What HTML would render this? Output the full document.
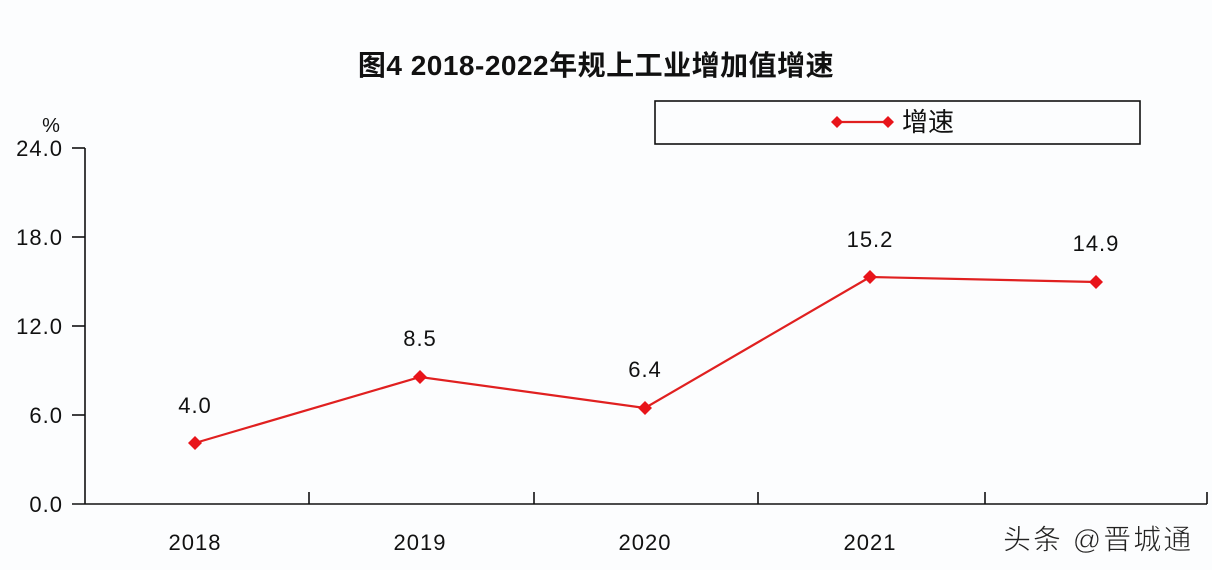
<!DOCTYPE html>
<html><head><meta charset="utf-8"><style>
html,body{margin:0;padding:0;background:#fcfdfe;}
svg{display:block;}
</style></head><body>
<svg width="1212" height="570" viewBox="0 0 1212 570" xmlns="http://www.w3.org/2000/svg">
<rect width="1212" height="570" fill="#fcfdfe"/>
<text x="596" y="75" text-anchor="middle" font-family="'Liberation Sans','Noto Sans CJK SC',sans-serif" font-weight="bold" font-size="28" letter-spacing="0.5" fill="#111">图4 2018-2022年规上工业增加值增速</text>
<rect x="655" y="101" width="485" height="43" fill="none" stroke="#111" stroke-width="1.6"/>
<line x1="837" y1="122" x2="888" y2="122" stroke="#e02020" stroke-width="2.2"/>
<path d="M837 116 L843 122 L837 128 L831 122 Z" fill="#e8141a"/>
<path d="M888 116 L894 122 L888 128 L882 122 Z" fill="#e8141a"/>
<text x="902" y="131" font-family="'Liberation Sans','Noto Sans CJK SC',sans-serif" font-size="26" fill="#111">增速</text>
<text x="51" y="132" text-anchor="middle" font-family="'Liberation Sans',sans-serif" font-size="20" fill="#111">%</text>
<g font-family="'Liberation Sans',sans-serif" font-size="22" fill="#111" text-anchor="end" letter-spacing="1">
<text x="63" y="156">24.0</text>
<text x="63" y="245">18.0</text>
<text x="63" y="334">12.0</text>
<text x="63" y="423">6.0</text>
<text x="63" y="512">0.0</text>
</g>
<g stroke="#111" stroke-width="1.6" fill="none">
<line x1="85" y1="148" x2="85" y2="504"/>
<line x1="72" y1="148" x2="85" y2="148"/>
<line x1="72" y1="237" x2="85" y2="237"/>
<line x1="72" y1="326" x2="85" y2="326"/>
<line x1="72" y1="415" x2="85" y2="415"/>
<line x1="72" y1="504" x2="1207" y2="504"/>
<line x1="309" y1="492" x2="309" y2="504"/>
<line x1="534" y1="492" x2="534" y2="504"/>
<line x1="758" y1="492" x2="758" y2="504"/>
<line x1="985" y1="492" x2="985" y2="504"/>
<line x1="1207" y1="492" x2="1207" y2="504"/>
</g>
<g font-family="'Liberation Sans',sans-serif" font-size="22" fill="#111" text-anchor="middle" letter-spacing="1">
<text x="195" y="550">2018</text>
<text x="420" y="550">2019</text>
<text x="645" y="550">2020</text>
<text x="870" y="550">2021</text>
</g>
<polyline points="195,443 420,377 645,408 870,277 1096,282" fill="none" stroke="#e02020" stroke-width="2.2"/>
<g fill="#e8141a">
<path d="M195 436 L202 443 L195 450 L188 443 Z"/>
<path d="M420 370 L427 377 L420 384 L413 377 Z"/>
<path d="M645 401 L652 408 L645 415 L638 408 Z"/>
<path d="M870 270 L877 277 L870 284 L863 277 Z"/>
<path d="M1096 275 L1103 282 L1096 289 L1089 282 Z"/>
</g>
<g font-family="'Liberation Sans',sans-serif" font-size="22" fill="#111" text-anchor="middle" letter-spacing="1">
<text x="195" y="413">4.0</text>
<text x="420" y="346">8.5</text>
<text x="645" y="377">6.4</text>
<text x="870" y="247">15.2</text>
<text x="1096" y="251">14.9</text>
</g>
<text x="1003" y="549" font-family="'Liberation Sans','Noto Sans CJK SC',sans-serif" font-size="28" letter-spacing="2" fill="#222" stroke="#fff" stroke-width="0.6">头条 @晋城通</text>
</svg>
</body></html>
